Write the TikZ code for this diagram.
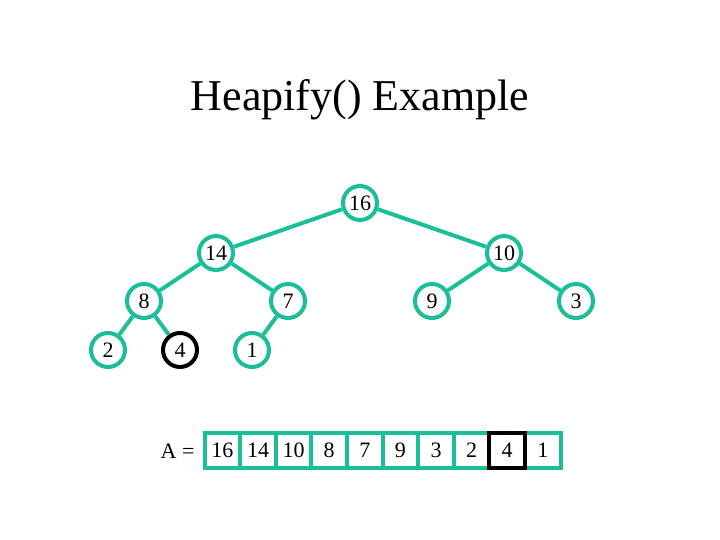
\documentclass[tikz,border=0pt]{standalone}
\usepackage{fontspec}
\setmainfont{Liberation Serif}
\definecolor{heapgreen}{RGB}{26,190,152}

\begin{document}
\begin{tikzpicture}[x=1pt,y=-1pt]
    \tikzstyle{edge} = [draw=heapgreen, line width=4pt]
    \tikzstyle{heapnode} = [circle, draw=heapgreen, line width=4pt,
        minimum size=34pt, inner sep=0pt, fill=white,
        font=\fontsize{22}{25}\selectfont]
    \tikzstyle{cell} = [rectangle, draw=heapgreen, line width=4pt,
        minimum width=35.6pt, minimum height=35pt, inner sep=0pt,
        font=\fontsize{22}{25}\selectfont]

    \useasboundingbox (0,0) rectangle (720,540);

    \node(title) at (360,111) [anchor=base]
        {\fontsize{44}{50}\selectfont Heapify() Example};

    % the tree
    \node(n16) [heapnode] at (360,203) {16};
    \node(n14) [heapnode] at (216,253) {14};
    \node(n10) [heapnode] at (504,253) {10};
    \node(n8)  [heapnode] at (144,301) {8};
    \node(n7)  [heapnode] at (288,301) {7};
    \node(n9)  [heapnode] at (432,301) {9};
    \node(n3)  [heapnode] at (576,301) {3};
    \node(n2)  [heapnode] at (108,350) {2};
    \node(n4)  [heapnode, draw=black] at (180,350) {4};
    \node(n1)  [heapnode] at (252,350) {1};

    \draw[edge] (n16) -- (n14);
    \draw[edge] (n16) -- (n10);
    \draw[edge] (n14) -- (n8);
    \draw[edge] (n14) -- (n7);
    \draw[edge] (n10) -- (n9);
    \draw[edge] (n10) -- (n3);
    \draw[edge] (n8) -- (n2);
    \draw[edge] (n8) -- (n4);
    \draw[edge] (n7) -- (n1);

    % the array
    \node(alabel) at (198,451) [anchor=east]
        {\fontsize{22}{25}\selectfont A =};
    \node(a1)  [cell] at (222.4,450) {16};
    \node(a2)  [cell] at (258.0,450) {14};
    \node(a3)  [cell] at (293.6,450) {10};
    \node(a4)  [cell] at (329.2,450) {8};
    \node(a5)  [cell] at (364.8,450) {7};
    \node(a6)  [cell] at (400.4,450) {9};
    \node(a7)  [cell] at (436.0,450) {3};
    \node(a8)  [cell] at (471.6,450) {2};
    \node(a10) [cell] at (542.8,450) {1};
    \node(a9)  [cell, draw=black] at (507.2,450) {4};
\end{tikzpicture}
\end{document}
